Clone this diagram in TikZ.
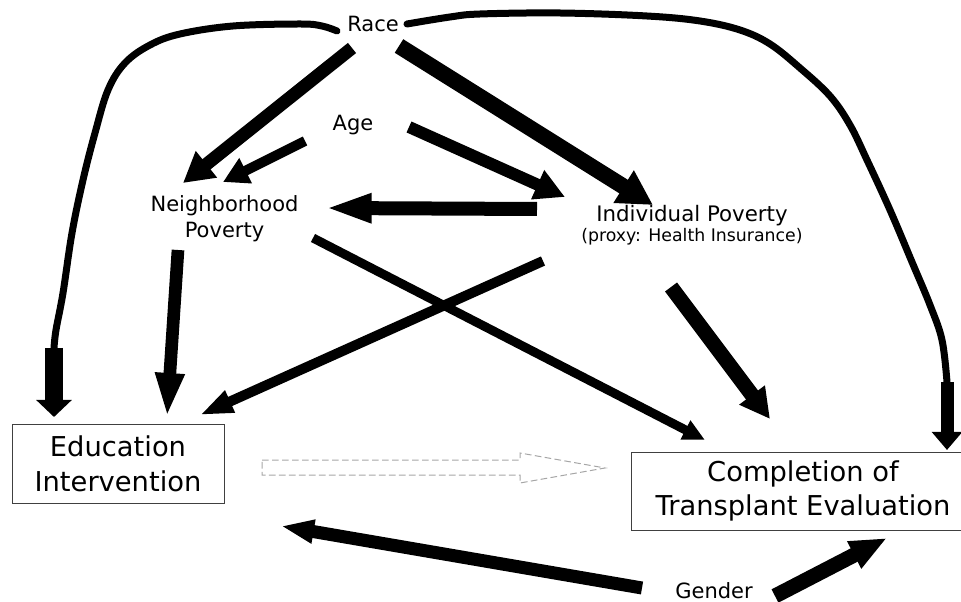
\documentclass[tikz,border=0pt]{standalone}
\usepackage{fontspec}
\setmainfont{DejaVu Sans}
\usetikzlibrary{arrows.meta}
\begin{document}
\begin{tikzpicture}[x=0.75pt,y=-0.75pt,
  blk/.style n args={3}{line width=#1, -{Triangle[length=#2,width=#3]}},
  lbl/.style={inner sep=0pt, font=\fontsize{15.75pt}{19.5pt}\selectfont},
  bigbox/.style={draw=black!75, line width=0.75pt, inner sep=0pt, align=center, font=\fontsize{20.5pt}{26pt}\selectfont},
  curve/.style={line width=5.25pt, line cap=round, line join=round},
  hollow/.style={draw=gray!70, line width=0.75pt, dash pattern=on 5pt off 2.5pt}]
\clip (0,0) rectangle (961,602);
% nodes
\node[lbl, anchor=base] (race) at (373,32) {Race};
\node[lbl, anchor=base] (age) at (353,131) {Age};
\node[lbl, anchor=base] (gender) at (714,598) {Gender};
\node[lbl, anchor=base, align=center] (np) at (224.5,238) {Neighborhood\\Poverty};
\node[lbl, anchor=base, align=center, font=\fontsize{16pt}{15pt}\selectfont] (ip) at (692,242) {Individual Poverty\\{\fontsize{13pt}{15pt}\selectfont (proxy: Health Insurance)}};
\node[bigbox, minimum width=159pt, minimum height=58.5pt] (edu) at (118,464) {Education\\Intervention};
\node[bigbox, minimum width=258pt, minimum height=58.5pt] (comp) at (803,491) {Completion of\\Transplant Evaluation};
% connector end points
\coordinate (rnS) at (352,48);  \coordinate (rnE) at (183,183);
\coordinate (anS) at (305,141); \coordinate (anE) at (223,182);
\coordinate (riS) at (399,46);  \coordinate (riE) at (653,205);
\coordinate (aiS) at (409,127); \coordinate (aiE) at (565,197);
\coordinate (inS) at (537,209); \coordinate (inE) at (325,208);
\coordinate (ncS) at (313,238); \coordinate (ncE) at (705,440);
\coordinate (ieS) at (543,261); \coordinate (ieE) at (200,415);
\coordinate (icS) at (671,287); \coordinate (icE) at (770,419);
\coordinate (neS) at (178,250); \coordinate (neE) at (167,417);
\coordinate (geS) at (642,588); \coordinate (geE) at (281,526);
\coordinate (gcS) at (775,596); \coordinate (gcE) at (887,538);
\coordinate (reS) at (337,31);  \coordinate (reM) at (54,348); \coordinate (reE) at (54,417);
\coordinate (rcS) at (407,24);  \coordinate (rcM) at (947,382); \coordinate (rcE) at (947,450);
% connectors
\draw[blk={9.75pt}{22.5pt}{24pt}] (rnS) -- (rnE);
\draw[blk={7.5pt}{19pt}{20pt}] (anS) -- (anE);
\draw[blk={12pt}{26pt}{27pt}] (riS) -- (riE);
\draw[blk={9pt}{22.5pt}{22.5pt}] (aiS) -- (aiE);
\draw[blk={10.5pt}{35pt}{20pt}] (inS) -- (inE);
\draw[blk={6.75pt}{16.5pt}{15pt}] (ncS) -- (ncE);
\draw[blk={7.5pt}{24.75pt}{16.5pt}] (ieS) -- (ieE);
\draw[blk={11.25pt}{22.5pt}{22.5pt}] (icS) -- (icE);
\draw[blk={9.5pt}{33pt}{20pt}] (neS) -- (neE);
\draw[blk={9.75pt}{24.75pt}{16.5pt}] (geS) -- (geE);
\draw[blk={11.25pt}{27.75pt}{21pt}] (gcS) -- (gcE);
% curved connectors from Race
\draw[curve] plot[smooth, tension=0.6] coordinates {(reS) (322,26) (300,24) (233,26) (180,34) (150,45) (125,63) (108,90) (95,133) (83,180) (72,233) (63,293) (56,330) (reM)};
\draw[blk={13.5pt}{12.75pt}{26pt}] (reM) -- (reE);
\draw[curve] plot[smooth, tension=0.6] coordinates {(rcS) (450,17) (480,14) (560,13) (647,16) (700,21) (740,30) (770,44) (800,68) (830,96) (850,125) (867,160) (890,210) (912,262) (930,305) (942,340) (rcM)};
\draw[blk={9.75pt}{13.5pt}{22pt}] (rcM) -- (rcE);
% hypothesised effect (dashed hollow arrow)
\draw[hollow] (262,460) -- (520,460) -- (520,453) -- (605,468) -- (520,483) -- (520,475) -- (262,475) -- cycle;
\end{tikzpicture}
\end{document}
